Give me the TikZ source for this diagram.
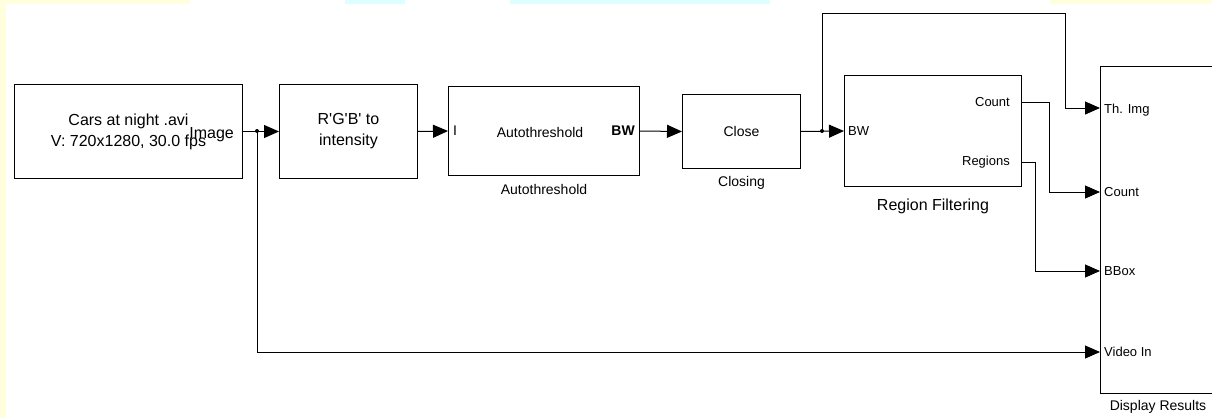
\documentclass[tikz,border=0pt]{standalone}
\usepackage{fontspec}
\setmainfont{Liberation Sans}
\usetikzlibrary{positioning,arrows.meta}

\definecolor{paleyellow}{HTML}{FFFFDD}
\definecolor{palecyan}{HTML}{DDFFFF}

\tikzset{
  block/.style={rectangle, draw=black, line width=1pt, anchor=north west, inner sep=0pt, align=center},
  bigtext/.style={font=\fontsize{16}{21}\selectfont},
  midtext/.style={font=\fontsize{14}{16}\selectfont},
  porttext/.style={font=\fontsize{13}{15}\selectfont, inner sep=0pt},
  wire/.style={line width=1pt, draw=black},
  sig/.style={wire, -{Triangle[length=15pt,width=13pt]}},
  junction/.style={circle, fill=black, inner sep=0pt, minimum size=4pt},
}

\begin{document}
\begin{tikzpicture}[x=1pt, y=-1pt]
    \useasboundingbox (0,0) rectangle (1212,418);
    \clip (0,0) rectangle (1212,418);
    % background strips
    \fill [white] (0,0) rectangle (1212,418);
    \fill [paleyellow] (0,0) rectangle (6,418);
    \fill [paleyellow] (0,0) rectangle (190,4);
    \fill [palecyan] (345,0) rectangle (405,4);
    \fill [palecyan] (510,0) rectangle (770,4);
    \fill [paleyellow] (1050,0) rectangle (1212,4);

    % blocks
    \node [block, bigtext, minimum width=228pt, minimum height=94pt] (source) at (14,84) {Cars at night .avi\\V: 720x1280, 30.0 fps};
    \node [bigtext, anchor=east, inner sep=0pt] (imgport) at ([xshift=-9pt, yshift=-3pt]source.east) {Image};
    \node [block, bigtext, minimum width=138pt, minimum height=94pt] (rgb) at (279,84) {R\textquotesingle G\textquotesingle B\textquotesingle{} to\\intensity};
    \node [block, midtext, minimum width=191pt, minimum height=89pt] (auto) at (448,86) {};
    \node [midtext] (autotext) at ([xshift=-4pt, yshift=-1pt]auto.center) {Autothreshold};
    \node [midtext, anchor=west, inner sep=0pt] (autoin) at ([xshift=5pt]auto.west) {I};
    \node [midtext, anchor=east, inner sep=0pt] (autoout) at ([xshift=-5pt]auto.east) {\textbf{BW}};
    \node [midtext, below=5pt of auto] (autolabel) {Autothreshold};
    \node [block, midtext, minimum width=118pt, minimum height=74pt] (close) at (682,94) {Close};
    \node [midtext, below=4pt of close] (closelabel) {Closing};
    \node [block, minimum width=177pt, minimum height=111pt] (region) at (844,75) {};
    \node [porttext, anchor=west] (regionin) at ([xshift=4pt]region.west) {BW};
    \node [porttext, anchor=east] (countout) at (1010,102) {Count};
    \node [porttext, anchor=east] (regionsout) at (1010,162) {Regions};
    \node [bigtext, below=8pt of region] (regionlabel) {Region Filtering};
    \node [block, minimum width=130pt, minimum height=327pt] (display) at (1100,66) {};
    \node [midtext, inner sep=0pt] (displaylabel) at (1158,407) {Display Results};

    % display ports
    \coordinate (inThImg) at (1100,108);
    \coordinate (inCount) at (1100,192);
    \coordinate (inBBox) at (1100,271);
    \coordinate (inVideo) at (1100,352);
    \node [porttext, anchor=west] (thimgport) at (1104,110) {Th. Img};
    \node [porttext, anchor=west] (countport) at (1104,192) {Count};
    \node [porttext, anchor=west] (bboxport) at (1104,271) {BBox};
    \node [porttext, anchor=west] (videoport) at (1104,352) {Video In};

    % region outputs
    \coordinate (outCount) at (1021,102);
    \coordinate (outRegions) at (1021,162);

    % junctions
    \node [junction] (split1) at (257,131) {};
    \node [junction] (split2) at (822,131) {};

    % connectors
    \draw [sig] (source.east) -- (rgb.west);
    \draw [sig] (rgb.east) -- (auto.west);
    \draw [sig] (auto.east) -- (close.west);
    \draw [sig] (close.east) -- (region.west);
    \draw [sig] (split1.center) |- (inVideo);
    \draw [sig] (split2.center) -- ++(0,-118) -| ([xshift=-35pt]inThImg) -- (inThImg);
    \draw [sig] (outCount) -- ++(28,0) |- (inCount);
    \draw [sig] (outRegions) -- ++(14,0) |- (inBBox);
\end{tikzpicture}
\end{document}
